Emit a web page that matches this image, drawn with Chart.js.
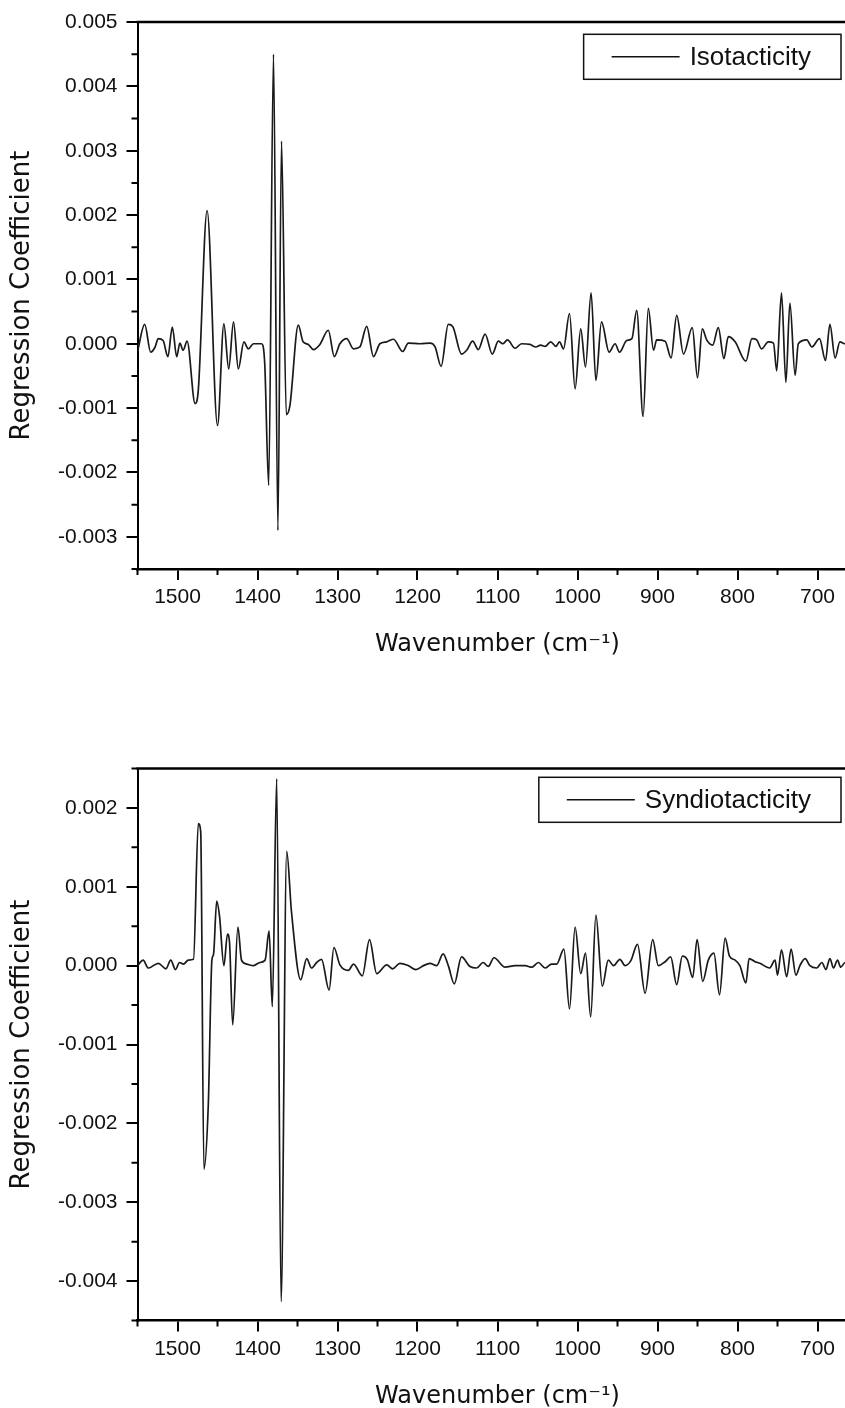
<!DOCTYPE html>
<html>
<head>
<meta charset="utf-8">
<title>Regression Coefficient spectra</title>
<script src="https://cdn.jsdelivr.net/npm/chart.js@4.4.1/dist/chart.umd.min.js"></script>
<style>
  html, body { margin: 0; padding: 0; background: #fff; width: 845px; height: 1408px; overflow: hidden; }
  canvas { position: absolute; left: 0; }
  #isoChart { top: 0; }
  #synChart { top: 746px; }
</style>
</head>
<body>
<canvas id="isoChart" width="870" height="690"></canvas>
<canvas id="synChart" width="870" height="696"></canvas>
<script>
// Isotacticity regression coefficients
const isoWavenumber = [
  1550, 1541, 1533.5, 1528, 1524, 1518, 1512, 1506.5, 1501, 1497, 1493, 1488,
  1478, 1474, 1463, 1450, 1442, 1436, 1430, 1424, 1417, 1411.5, 1405, 1395,
  1391, 1386, 1380, 1374.5, 1370, 1364, 1359.5, 1349, 1343, 1336.5, 1330, 1322,
  1311.5, 1304, 1297, 1288.5, 1280, 1272, 1263.5, 1255, 1247, 1238.5, 1230, 1218.5,
  1211.5, 1197, 1184, 1178, 1170.5, 1161.5, 1156, 1145, 1138.5, 1131, 1124, 1115.5,
  1106.5, 1099, 1093.5, 1087.5, 1078, 1070, 1059.5, 1052, 1046, 1040.5, 1033.5, 1027,
  1022.5, 1017.5, 1010, 1003, 996, 990, 983, 977, 970, 960.5, 953, 947.5,
  938.5, 932, 926, 918, 911.5, 905, 901, 890.5, 883, 876, 867.5, 856.5,
  850, 844, 838.5, 831, 824, 817, 811.5, 803, 789.5, 782, 776, 770,
  761.5, 755, 751, 745, 739.5, 734.5, 728, 724, 713.5, 707, 697.5, 690,
  684.5, 678, 672, 666, 655, 650
];
const isoCoef = [
  -0.00012, 0.0003, -0.00013, -0.00005, 0.00008, 0.00005, -0.0002, 0.00026, -0.0002, 0.00001, -0.0001, 0.00004,
  -0.00093, -0.00072, 0.00207, -0.00127, 0.00031, -0.00039, 0.00034, -0.00039, 0.00003, -0.00008, 0.0, 0.0,
  -0.0003, -0.0022, 0.0045, -0.0029, 0.00315, -0.0011, -0.00096, 0.00029, 0.00003, -0.00001, -0.00009, -0.00001,
  0.00021, -0.0002, 0.0, 0.00008, -0.00008, -0.00005, 0.00027, -0.0002, 0.0, 0.00003, 0.00007, -0.00012,
  0.00001, 0.0, 0.00001, -0.00005, -0.00035, 0.0003, 0.00027, -0.00016, -0.0001, 0.00004, -0.00009, 0.00015,
  -0.00016, 0.00004, 0.0, 0.00006, -0.00007, 0.0, -0.00001, -0.00005, -0.00002, -0.00004, 0.00003, -0.00004,
  0.00003, -0.00008, 0.00047, -0.0007, 0.00023, -0.00036, 0.00079, -0.00057, 0.00034, -0.00013, 0.0, -0.00013,
  0.00005, 0.00008, 0.00052, -0.00113, 0.00055, -0.0001, 0.00006, 0.00004, -0.00022, 0.00044, -0.00016, 0.00025,
  -0.00053, 0.00023, 0.00006, -0.00002, 0.00025, -0.00023, 0.00011, 0.00003, -0.00027, 0.00008, 0.00006, -0.00008,
  0.00003, 0.00001, -0.00042, 0.00079, -0.0006, 0.00063, -0.00049, 0.0, 0.00006, -0.00005, 0.00008, -0.00026,
  0.0003, -0.00022, 0.00003, 0.0, 0.00003, 0.0
];

// Syndiotacticity regression coefficients
const synWavenumber = [
  1550, 1543, 1536.5, 1524, 1514.5, 1508.5, 1502.5, 1497.5, 1492.5, 1486.5, 1480, 1474,
  1471, 1467, 1461.5, 1457, 1455, 1451, 1447.5, 1442, 1437.5, 1435, 1431, 1424.5,
  1420, 1413.5, 1405, 1397, 1390.5, 1385.5, 1381.5, 1376, 1370.5, 1363.5, 1357.5, 1346,
  1338.5, 1332.5, 1326, 1320, 1310.5, 1304.5, 1297, 1286.5, 1280, 1269, 1260, 1251,
  1238.5, 1231, 1222, 1211.5, 1202, 1192.5, 1184.5, 1176, 1168, 1161.5, 1154, 1145,
  1134.5, 1126, 1118, 1111.5, 1104.5, 1090.5, 1078, 1065.5, 1057, 1049, 1040.5, 1032.5,
  1026, 1017, 1010, 1003, 996, 990, 983.5, 977, 969, 961.5, 955, 947,
  940.5, 933.5, 925, 915.5, 906, 899, 890.5, 883.5, 876, 869, 862.5, 856,
  850.5, 843.5, 836.5, 829.5, 822.5, 815.5, 810, 803, 797, 789.5, 785.5, 778,
  772, 760, 753, 750, 745, 738.5, 733, 727, 722, 715.5, 709.5, 701,
  694.5, 689.5, 684.5, 680, 675, 671, 665.5, 655, 650
];
const synCoef = [
  0.0, 0.00007, -0.00003, 0.00003, -0.00004, 0.00007, -0.00005, 0.00004, 0.00002, 0.00007, 0.00008, 0.0018,
  0.0017, -0.00258, -0.00176, 0.00007, 0.00014, 0.00082, 0.00063, 0.0, 0.0004, 0.0003, -0.00075, 0.00049,
  0.00007, 0.00002, 0.0, 0.00004, 0.00007, 0.00044, -0.00052, 0.00237, -0.00426, 0.00145, 0.00068, -0.00018,
  0.00009, -0.00003, 0.00004, 0.00008, -0.00031, 0.00023, 0.00001, -0.00006, 0.00002, -0.00013, 0.00033, -0.0001,
  0.00001, -0.00004, 0.00003, 0.0, -0.00005, 0.0, 0.00003, 0.0, 0.00015, 0.0, -0.00023, 0.00011,
  -0.00001, -0.00003, 0.00004, -0.00001, 0.0001, -0.00002, 0.0, 0.0, -0.00002, 0.00004, -0.00003, 0.00002,
  0.00002, 0.00021, -0.00055, 0.00049, -0.0001, 0.00016, -0.00065, 0.00064, -0.00026, 0.00007, 0.0, 0.00008,
  0.0, 0.00006, 0.00027, -0.00035, 0.00033, 0.0, 0.00005, 0.00011, -0.00024, 0.00012, 0.00007, -0.00015,
  0.00033, -0.0002, 0.00007, 0.00016, -0.00037, 0.00035, 0.00012, 0.00007, 0.0, -0.00022, 0.00009, 0.00005,
  0.00003, -0.00003, 0.00007, -0.00012, 0.0002, -0.00014, 0.00021, -0.00012, 0.0, 0.00009, 0.0, -0.00003,
  0.00004, -0.00005, 0.00009, -0.00003, 0.00007, -0.00002, 0.00004, 0.0, 0.00002
];

// Axis ranges and labelled ticks
const wavenumberRange = [650, 1550];
const wavenumberTicks = [1500, 1400, 1300, 1200, 1100, 1000, 900, 800, 700];
const isoRange = [-0.0035, 0.005];
const isoTicks = [-0.003, -0.002, -0.001, 0, 0.001, 0.002, 0.003, 0.004, 0.005];
const synRange = [-0.0045, 0.0025];
const synTicks = [-0.004, -0.003, -0.002, -0.001, 0, 0.001, 0.002];

const tickFont = { family: "'Liberation Sans', Arial, sans-serif", size: 21 };
const xTitleFont = { family: "'DejaVu Sans', sans-serif", size: 24 };
const yTitleFont = { family: "'DejaVu Sans', sans-serif", size: 26 };

// small minor ticks between the labelled ones, like the original plot
const minorTicks = {
  id: 'minorTicks',
  afterDraw(chart) {
    const { ctx, chartArea, scales: { x, y } } = chart;
    ctx.save();
    ctx.strokeStyle = '#000';
    ctx.lineWidth = 2;
    ctx.beginPath();
    for (let v = Math.ceil(x.min / 50) * 50; v <= x.max; v += 50) {
      if (v % 100 === 0) continue;
      const px = x.getPixelForValue(v);
      ctx.moveTo(px, chartArea.bottom);
      ctx.lineTo(px, chartArea.bottom + 6);
    }
    const kMin = Math.ceil(y.min / 0.0005 - 1e-6);
    const kMax = Math.floor(y.max / 0.0005 + 1e-6);
    for (let k = kMin; k <= kMax; k++) {
      if (k % 2 === 0) continue;
      const py = y.getPixelForValue(k * 0.0005);
      ctx.moveTo(chartArea.left, py);
      ctx.lineTo(chartArea.left - 6, py);
    }
    ctx.stroke();
    // top and right edges of the frame
    ctx.lineWidth = 2.5;
    ctx.beginPath();
    ctx.moveTo(chartArea.left - 1, chartArea.top);
    ctx.lineTo(chartArea.right, chartArea.top);
    ctx.lineTo(chartArea.right, chartArea.bottom);
    ctx.stroke();
    ctx.restore();
  }
};

// boxed legend inside the plot, top right
const boxLegend = {
  id: 'boxLegend',
  afterDraw(chart, args, opts) {
    const { ctx, chartArea } = chart;
    const label = chart.data.datasets[0].label;
    ctx.save();
    ctx.font = "26px 'Liberation Sans', Arial, sans-serif";
    const textW = ctx.measureText(label).width;
    const w = 28 + 68 + 10 + textW + 30;
    const h = 45;
    const right = chartArea.right - opts.right;
    const left = right - w;
    const top = chartArea.top + opts.top;
    ctx.fillStyle = '#fff';
    ctx.fillRect(left, top, w, h);
    ctx.strokeStyle = '#111';
    ctx.lineWidth = 1.5;
    ctx.strokeRect(left, top, w, h);
    ctx.beginPath();
    ctx.moveTo(left + 28, top + h / 2);
    ctx.lineTo(left + 96, top + h / 2);
    ctx.stroke();
    ctx.fillStyle = '#111';
    ctx.textBaseline = 'middle';
    ctx.fillText(label, left + 106, top + h / 2 + 1);
    ctx.restore();
  }
};

function createSpectrumChart(canvasId, label, xs, ys, yRange, yTicks, padTop, axisHeight, legendTop) {
  const ctx = document.getElementById(canvasId).getContext('2d');
  return new Chart(ctx, {
    type: 'line',
    data: {
      datasets: [{
        label: label,
        data: xs.map((x, i) => ({ x: x, y: ys[i] })),
        borderColor: '#1a1a1a',
        borderWidth: 1.7,
        pointRadius: 0,
        cubicInterpolationMode: 'monotone',
        fill: false
      }]
    },
    options: {
      responsive: false,
      animation: false,
      events: [],
      layout: { padding: { top: padTop, left: 0, right: 12.5, bottom: 0 } },
      plugins: {
        legend: { display: false },
        tooltip: { enabled: false },
        boxLegend: { top: legendTop, right: 16.5 }
      },
      scales: {
        x: {
          type: 'linear',
          reverse: true,
          min: wavenumberRange[0],
          max: wavenumberRange[1],
          afterBuildTicks(scale) { scale.ticks = wavenumberTicks.map(v => ({ value: v })); },
          afterFit(scale) { scale.height = axisHeight; },
          border: { color: '#000', width: 2.5 },
          grid: { drawOnChartArea: false, color: '#000', lineWidth: 2, tickLength: 11 },
          ticks: {
            padding: 5,
            color: '#111',
            font: tickFont,
            maxRotation: 0,
            autoSkip: false,
            callback: (v) => String(v)
          },
          title: {
            display: true,
            text: 'Wavenumber (cm\u207B\u00B9)',
            color: '#111',
            font: xTitleFont,
            padding: { top: 0, bottom: 31 }
          }
        },
        y: {
          min: yRange[0],
          max: yRange[1],
          afterBuildTicks(scale) { scale.ticks = yTicks.map(v => ({ value: v })); },
          afterFit(scale) { scale.width = 137.5; },
          border: { color: '#000', width: 2 },
          grid: { drawOnChartArea: false, color: '#000', lineWidth: 2, tickLength: 11 },
          ticks: {
            padding: 9,
            color: '#111',
            font: tickFont,
            autoSkip: false,
            callback: (v) => v.toFixed(3)
          },
          title: {
            display: true,
            text: 'Regression Coefficient',
            color: '#111',
            font: yTitleFont,
            padding: { top: 7, bottom: 0 }
          }
        }
      }
    },
    plugins: [minorTicks, boxLegend]
  });
}

createSpectrumChart('isoChart', 'Isotacticity', isoWavenumber, isoCoef, isoRange, isoTicks, 22, 121, 12.3);
createSpectrumChart('synChart', 'Syndiotacticity', synWavenumber, synCoef, synRange, synTicks, 22.5, 121.5, 8.8);
</script>
</body>
</html>
